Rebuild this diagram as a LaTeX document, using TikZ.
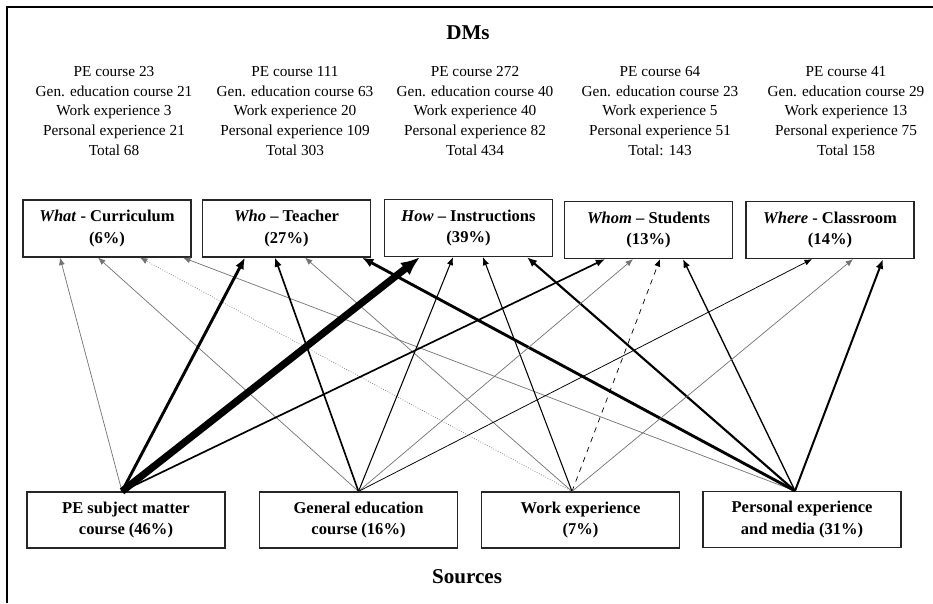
\documentclass[tikz,border=0pt]{standalone}
\usepackage{fontspec}
\setmainfont{Liberation Serif}
\usetikzlibrary{positioning,arrows.meta}

\tikzset{
  dmbox/.style={draw=black!85, line width=0.7pt, minimum width=3.36cm, minimum height=1.14cm,
    align=center, inner sep=1pt, font=\fontsize{9.4}{12.3}\selectfont\bfseries},
  srcbox/.style={dmbox, minimum width=3.96cm, minimum height=1.12cm},
  counts/.style={align=center, font=\fontsize{8.7}{11.3}\selectfont},
  flow/.style={line width={max(0.4pt,#1*0.015pt)}, -{Latex[length=3.5pt 1.8,width=2.8pt 1.5]}},
  faint/.style={draw=black!55},
}

\begin{document}
\begin{tikzpicture}
\fill[white] (0,0) rectangle (18.66,12.06);
\useasboundingbox (0,0) rectangle (18.66,12.06);
\draw[line width=0.9pt] (0.14,0) -- (0.14,11.92) -- (18.66,11.92);

\node[font=\fontsize{12}{14}\selectfont\bfseries] (dms) at (9.36,11.40) {DMs};

% counts per decision
\node[counts] (c-what) at (2.28,9.84) {PE course 23\\Gen. education course 21\\Work experience 3\\Personal experience 21\\Total 68};
\node[counts] (c-who) at (5.90,9.84) {PE course 111\\Gen. education course 63\\Work experience 20\\Personal experience 109\\Total 303};
\node[counts] (c-how) at (9.50,9.84) {PE course 272\\Gen. education course 40\\Work experience 40\\Personal experience 82\\Total 434};
\node[counts] (c-whom) at (13.20,9.84) {PE course 64\\Gen. education course 23\\Work experience 5\\Personal experience 51\\Total: 143};
\node[counts] (c-where) at (16.92,9.84) {PE course 41\\Gen. education course 29\\Work experience 13\\Personal experience 75\\Total 158};

% decisions
\node[dmbox] (what) at (2.14,7.49) {\textit{What} - Curriculum\\(6\%)};
\node[dmbox] (who) at (5.73,7.49) {\textit{Who} -- Teacher\\(27\%)};
\node[dmbox] (how) at (9.37,7.50) {\textit{How} -- Instructions\\(39\%)};
\node[dmbox] (whom) at (12.97,7.46) {\textit{Whom} -- Students\\(13\%)};
\node[dmbox] (where) at (16.60,7.46) {\textit{Where} - Classroom\\(14\%)};

% sources
\node[srcbox] (pe) at (2.52,1.66) {PE subject matter\\course (46\%)};
\node[srcbox] (gen) at (7.17,1.66) {General education\\course (16\%)};
\node[srcbox] (work) at (11.61,1.66) {Work experience\\(7\%)};
\node[srcbox] (pers) at (16.04,1.67) {Personal experience\\and media (31\%)};

\node[font=\fontsize{12}{14}\selectfont\bfseries] (sources) at (9.34,0.52) {Sources};

\coordinate (pe-o) at ([xshift=-0.08cm]pe.north);
\coordinate (gen-o) at (gen.north);
\coordinate (work-o) at ([xshift=-0.17cm]work.north);
\coordinate (pers-o) at ([xshift=-0.14cm]pers.north);

% What
\draw[flow=23, faint] (pe-o) -- ([xshift=-0.94cm]what.south);
\draw[flow=21, faint] (gen-o) -- ([xshift=-0.18cm]what.south);
\draw[flow=3, faint, densely dotted] (work-o) -- ([xshift=0.66cm]what.south);
\draw[flow=21, faint] (pers-o) -- ([xshift=1.52cm]what.south);
% Who
\draw[flow=111] (pe-o) -- ([xshift=-0.83cm]who.south);
\draw[flow=63] (gen-o) -- ([xshift=-0.23cm]who.south);
\draw[flow=20, faint] (work-o) -- ([xshift=0.37cm]who.south);
\draw[flow=109] (pers-o) -- ([xshift=1.51cm]who.south);
% How
\draw[flow=272] (pe-o) -- ([xshift=-0.97cm]how.south);
\draw[flow=40] (gen-o) -- ([xshift=-0.31cm]how.south);
\draw[flow=40] (work-o) -- ([xshift=0.29cm]how.south);
\draw[flow=82] (pers-o) -- ([xshift=1.17cm]how.south);
% Whom
\draw[flow=64] (pe-o) -- ([xshift=-0.87cm]whom.south);
\draw[flow=23, faint] (gen-o) -- ([xshift=-0.31cm]whom.south);
\draw[flow=5, dashed] (work-o) -- ([xshift=0.23cm]whom.south);
\draw[flow=51] (pers-o) -- ([xshift=0.69cm]whom.south);
% Where
\draw[flow=29] (gen-o) -- ([xshift=-0.36cm]where.south);
\draw[flow=13, faint] (work-o) -- ([xshift=0.46cm]where.south);
\draw[flow=75] (pers-o) -- ([xshift=1.06cm]where.south);
\end{tikzpicture}
\end{document}
